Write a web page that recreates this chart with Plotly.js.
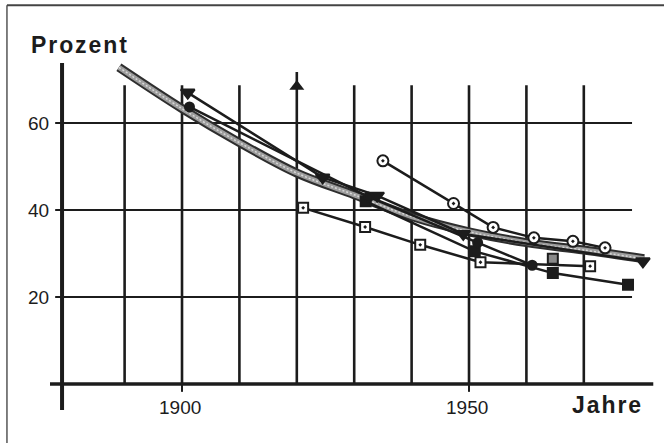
<!DOCTYPE html>
<html>
<head>
<meta charset="utf-8">
<script src="https://cdn.plot.ly/plotly-3.0.1.min.js"></script>
<style>html,body{margin:0;padding:0;background:#fff;}#chart{width:664px;height:443px;}</style>
</head>
<body>
<div id="chart"></div>
<script>
// ---- data ----
const bandYears = [1889, 1900, 1910, 1920, 1930, 1940, 1950, 1960, 1970, 1980.5];
const bandValues = [72.8, 63.3, 55.5, 48.5, 43.5, 38.5, 35.0, 32.5, 30.8, 28.8];

const triYears = [1901, 1924.5, 1934, 1949, 1980.3];
const triValues = [67, 47.5, 43.3, 34.5, 28.2];

const dotYears = [1901.3, 1932.5, 1951.5, 1961];
const dotValues = [63.7, 43.0, 32.5, 27.3];

const fSqYears = [1932, 1951, 1964.6, 1977.7];
const fSqValues = [42.0, 30.5, 25.5, 22.8];

const oSqYears = [1921.1, 1931.9, 1941.5, 1952, 1971.1];
const oSqValues = [40.5, 36.1, 32.0, 28.0, 27.1];

const oCircYears = [1935, 1947.3, 1954.2, 1961.3, 1968.1, 1973.7];
const oCircValues = [51.3, 41.5, 36.0, 33.6, 32.8, 31.3];

const hatchYears = [1964.6];
const hatchValues = [28.8];

const gridYears = [1890, 1900, 1910, 1920, 1930, 1940, 1950, 1960, 1970];
const gridValues = [20, 40, 60];
const yTickLabels = ['20', '40', '60'];
const xTickYears = [1900, 1950];
const xTickLabels = ['1900', '1950'];
const arrowYear = [1920];
const arrowValue = [68.4];

// ---- layout constants ----
const X0 = 1868.29, X1 = 1983.97, Y0 = -13.56, Y1 = 88.28;
const AXIS_X = 1879.1;
const INK = '#1c1c1c';
const FONT = 'Liberation Sans, Arial, Helvetica, sans-serif';

const line = (x0, y0, x1, y1, w, c) => ({type: 'line', xref: 'x', yref: 'y', x0, y0, x1, y1,
  line: {color: c || INK, width: w}, layer: 'below'});

const shapes = [];
gridYears.forEach(g => shapes.push(line(g, 0, g, g === 1920 ? 71.7 : 68.7, 2.6)));
gridValues.forEach(v => shapes.push(line(AXIS_X, v, 1978.4, v, 2.2)));
gridValues.forEach(v => shapes.push(line(1877.9, v, AXIS_X, v, 2)));
xTickYears.forEach(t => shapes.push(line(t, 0, t, -1.8, 2)));
shapes.push(line(1877.0, 0, 1982.1, 0, 3.4));
shapes.push(line(AXIS_X, -6.0, AXIS_X, 73.8, 4));
// frame (left and top edges)
shapes.push({type: 'line', xref: 'x', yref: 'y', x0: 1869.5, y0: 87.1, x1: 1869.5, y1: Y0, line: {color: '#555', width: 1.5}});
shapes.push({type: 'line', xref: 'x', yref: 'y', x0: 1869.5, y0: 87.1, x1: X1, y1: 87.1, line: {color: '#444', width: 2}});

const annotations = [];
gridValues.forEach((v, i) => annotations.push({x: 1877.2, y: v, xref: 'x', yref: 'y', text: yTickLabels[i],
  showarrow: false, xanchor: 'right', yanchor: 'middle', font: {family: FONT, size: 19, color: INK}}));
xTickYears.forEach((t, i) => annotations.push({x: t - 0.4, y: -5.3, xref: 'x', yref: 'y', text: xTickLabels[i],
  showarrow: false, xanchor: 'center', yanchor: 'middle', font: {family: FONT, size: 19, color: INK}}));
annotations.push({x: 1873.3, y: 77.9, xref: 'x', yref: 'y', text: '<b>P\u200Ar\u200Ao\u200Az\u200Ae\u200An\u200At</b>', showarrow: false,
  xanchor: 'left', yanchor: 'middle', font: {family: FONT, size: 23, color: INK}});
annotations.push({x: 1967.6, y: -4.9, xref: 'x', yref: 'y', text: '<b>J\u200Aa\u200Ah\u200Ar\u200Ae</b>', showarrow: false,
  xanchor: 'left', yanchor: 'middle', font: {family: FONT, size: 23, color: INK}});

const ser = (x, y, symbol, size, fill, lw) => ({x, y, type: 'scatter', mode: 'lines+markers', cliponaxis: false,
  line: {color: INK, width: lw || 2.5},
  marker: {symbol, size, color: fill, line: {color: INK, width: 2}}});

const traces = [
  {x: bandYears, y: bandValues, type: 'scatter', mode: 'lines', line: {color: '#2e2e2e', width: 9, shape: 'spline'}},
  {x: bandYears, y: bandValues, type: 'scatter', mode: 'lines', line: {color: '#9c9c9c', width: 5, shape: 'spline'}},
  {x: bandYears, y: bandValues, type: 'scatter', mode: 'lines', line: {color: '#d8d8d8', width: 1.5, shape: 'spline', dash: '2px,2px'}},
  ser(oSqYears, oSqValues, 'square-dot', 10, '#fff'),
  ser(fSqYears, fSqValues, 'square', 10, INK),
  ser(dotYears, dotValues, 'circle', 9, INK),
  ser(triYears, triValues, 'triangle-down', 12, INK),
  ser(oCircYears, oCircValues, 'circle-dot', 11, '#fff'),
  {x: hatchYears, y: hatchValues, type: 'scatter', mode: 'markers', marker: {symbol: 'square', size: 10, color: '#8a8a8a', line: {color: INK, width: 2}}},
  {x: arrowYear, y: arrowValue, type: 'scatter', mode: 'markers', marker: {symbol: 'triangle-up', size: 13, color: INK, line: {width: 0}}}
];

const layout = {
  width: 664, height: 443,
  margin: {l: 0, r: 0, t: 0, b: 0},
  paper_bgcolor: '#ffffff', plot_bgcolor: '#ffffff',
  showlegend: false,
  xaxis: {range: [X0, X1], visible: false, fixedrange: true},
  yaxis: {range: [Y0, Y1], visible: false, fixedrange: true},
  shapes, annotations
};

Plotly.newPlot('chart', traces, layout, {staticPlot: true, displayModeBar: false});
</script>
</body>
</html>
